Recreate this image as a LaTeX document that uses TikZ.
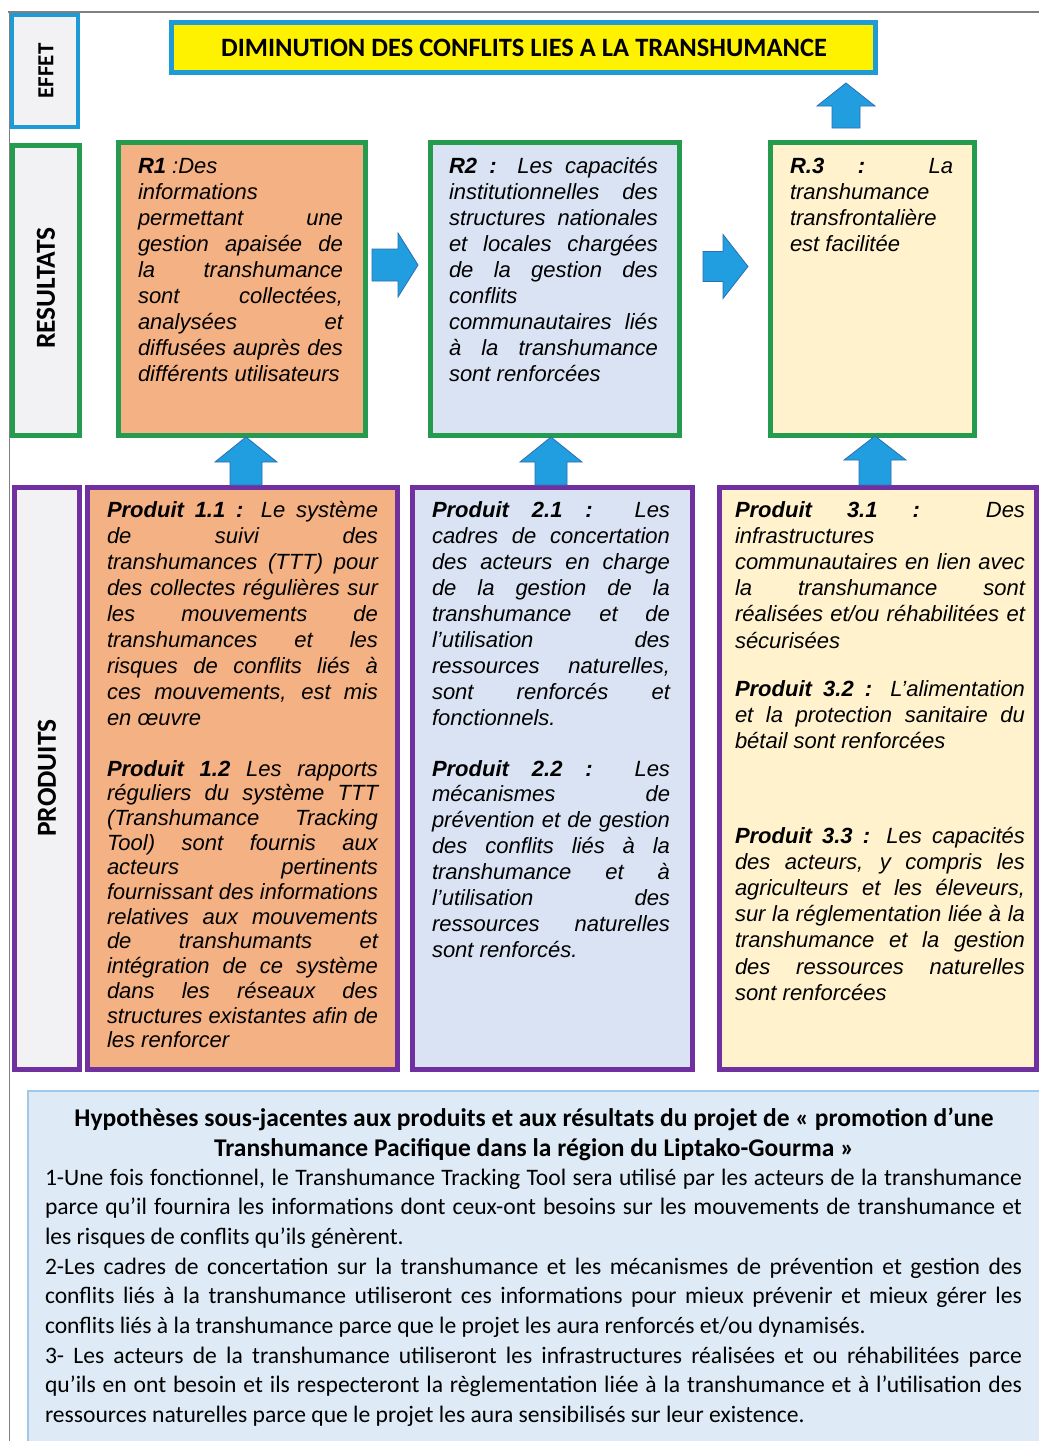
\documentclass[tikz,border=0pt]{standalone}
\usepackage{fontspec}
\usepackage{graphicx}
\setmainfont{Liberation Sans}
\newfontfamily\calibri{Carlito}
\usetikzlibrary{fit}
\definecolor{effblue}{RGB}{30,155,215}
\definecolor{grn}{RGB}{36,155,78}
\definecolor{pur}{RGB}{112,48,160}
\definecolor{orng}{RGB}{244,177,131}
\definecolor{lblue}{RGB}{218,227,243}
\definecolor{lyell}{RGB}{255,242,204}
\definecolor{lgray}{RGB}{242,242,244}
\definecolor{hypfill}{RGB}{222,235,247}
\definecolor{hypdraw}{RGB}{160,200,235}
\definecolor{arrfill}{RGB}{33,158,224}
\definecolor{arrdraw}{RGB}{45,110,175}
\definecolor{framegray}{RGB}{128,128,128}

\newcommand\jline[1]{\setbox0=\hbox{#1}\ifdim\wd0>\hsize\hbox to\hsize{\resizebox{\hsize}{\height}{#1}}\else\hbox to\hsize{#1}\fi}
\newcommand\lastln[1]{\setbox0=\hbox{#1}\ifdim\wd0>\hsize\hbox to\hsize{\resizebox{\hsize}{\height}{#1}}\else\hbox to\hsize{#1\hfil}\fi}
\newcommand\blk[3]{\parbox[t]{#1pt}{\fontsize{22}{#2}\selectfont\itshape #3}}
\newcommand\hblk[2]{\parbox[t]{#1pt}{\calibri\fontsize{23.6}{29.7}\selectfont #2}}
\newcommand\uparr[6]{\draw[arr] (#1,#2) -- (#1+#5,#3) -- (#1+#6,#3) -- (#1+#6,#4) -- (#1-#6,#4) -- (#1-#6,#3) -- (#1-#5,#3) -- cycle;}
\newcommand\rtarr[6]{\draw[arr] (#2,#1) -- (#3,#1-#5) -- (#3,#1-#6) -- (#4,#1-#6) -- (#4,#1+#6) -- (#3,#1+#6) -- (#3,#1+#5) -- cycle;}

\tikzset{
  lbl/.style={font=\calibri\bfseries\fontsize{27.5}{30}\selectfont, rotate=90},
  grbox/.style={draw=grn, line width=5pt},
  pubox/.style={draw=pur, line width=5pt},
  arr/.style={fill=arrfill, draw=arrdraw, line width=0.8pt, line join=miter},
  txt/.style={anchor=base west}
}

\begin{document}
\begin{tikzpicture}[x=1pt,y=-1pt, every node/.style={inner sep=0pt, outer sep=0pt}]
\useasboundingbox (0,0) rectangle (1039,1441);
\fill[white] (0,0) rectangle (1039,1441);

% frame lines
\draw[framegray, line width=2pt] (8,12) -- (1039,12);
\draw[framegray, line width=1.5pt] (9.5,12) -- (9.5,1441);

% EFFET row
\node[draw=effblue, line width=4pt, fill=lgray, fit={(12,15) (78,127)}] (effet) {};
\node[draw=effblue, line width=5pt, fill=yellow, fit={(171.5,22.5) (875.5,72.5)}] (goal) {};

% RESULTATS row
\node[grbox, fill=lgray, fit={(12.5,145.5) (79.5,435.5)}] (res) {};
\node[grbox, fill=orng, fit={(118.5,142.5) (365.5,435.5)}] (r1) {};
\node[grbox, fill=lblue, fit={(430.5,142.5) (679.5,435.5)}] (r2) {};
\node[grbox, fill=lyell, fit={(770.5,142.5) (974.5,435.5)}] (r3) {};

% PRODUITS row
\node[pubox, fill=lgray, fit={(14.5,487.5) (79.5,1069.5)}] (prod) {};
\node[pubox, fill=orng, fit={(87.5,487.5) (397.5,1069.5)}] (p1) {};
\node[pubox, fill=lblue, fit={(412.5,487.5) (692.5,1069.5)}] (p2) {};
\node[pubox, fill=lyell, fit={(719.5,487.5) (1036.5,1069.5)}] (p3) {};

% hypotheses box
\node[draw=hypdraw, line width=2pt, fill=hypfill, fit={(28,1091) (1050,1460)}] (hyp) {};

% arrows
\uparr{846}{83}{106}{128}{29}{14}
\uparr{246}{437}{462}{485}{31}{16}
\uparr{551}{437}{462}{485}{31}{16}
\uparr{875}{436}{460}{485}{31}{16}
\rtarr{265}{418}{398}{372}{32}{16}
\rtarr{266.5}{748}{723}{703}{32}{15}

% side labels
\node[lbl, font=\calibri\bfseries\fontsize{23}{26}\selectfont] (leffet) at (46,71) {EFFET};
\node[lbl] (lres) at (46,288) {RESULTATS};
\node[lbl] (lprod) at (47,778) {PRODUITS};

% goal text
\node[font=\calibri\bfseries\fontsize{26.5}{30}\selectfont] (goaltxt) at (524,48) {DIMINUTION DES CONFLITS LIES A LA TRANSHUMANCE};

% results texts
\node[txt] (r1t) at (138,173) {\blk{205}{26.1}{%
\lastln{{\bfseries R1} :Des}
\lastln{informations}
\jline{permettant une}
\jline{gestion apaisée de}
\jline{la transhumance}
\jline{sont collectées,}
\jline{analysées et}
\jline{diffusées auprès des}
\lastln{différents utilisateurs}}};

\node[txt] (r2t) at (449,173) {\blk{209}{26.1}{%
\jline{{\bfseries R2 :} Les capacités}
\jline{institutionnelles des}
\jline{structures nationales}
\jline{et locales chargées}
\jline{de la gestion des}
\lastln{conflits}
\jline{communautaires liés}
\jline{à la transhumance}
\lastln{sont renforcées}}};

\node[txt] (r3t) at (790,173) {\blk{163}{26.1}{%
\jline{{\bfseries R.3 :} La}
\lastln{transhumance}
\lastln{transfrontalière}
\lastln{est facilitée}}};

% product texts
\node[txt] (p11t) at (107,517) {\blk{271}{26}{%
\jline{{\bfseries Produit 1.1 :} Le système}
\jline{de suivi des}
\jline{transhumances (TTT) pour}
\jline{des collectes régulières sur}
\jline{les mouvements de}
\jline{transhumances et les}
\jline{risques de conflits liés à}
\jline{ces mouvements, est mis}
\lastln{en œuvre}}};

\node[txt] (p12t) at (107,776) {\blk{271}{24.7}{%
\jline{{\bfseries Produit 1.2} Les rapports}
\jline{réguliers du système TTT}
\jline{(Transhumance Tracking}
\jline{Tool) sont fournis aux}
\jline{acteurs pertinents}
\jline{fournissant des informations}
\jline{relatives aux mouvements}
\jline{de transhumants et}
\jline{intégration de ce système}
\jline{dans les réseaux des}
\jline{structures existantes afin de}
\lastln{les renforcer}}};

\node[txt] (p21t) at (432,517) {\blk{238}{26}{%
\jline{{\bfseries Produit 2.1 :} Les}
\jline{cadres de concertation}
\jline{des acteurs en charge}
\jline{de la gestion de la}
\jline{transhumance et de}
\jline{l’utilisation des}
\jline{ressources naturelles,}
\jline{sont renforcés et}
\lastln{fonctionnels.}}};

\node[txt] (p22t) at (432,776) {\blk{238}{25.9}{%
\jline{{\bfseries Produit 2.2 :} Les}
\jline{mécanismes de}
\jline{prévention et de gestion}
\jline{des conflits liés à la}
\jline{transhumance et à}
\jline{l’utilisation des}
\jline{ressources naturelles}
\lastln{sont renforcés.}}};

\node[txt] (p31t) at (735,517) {\blk{290}{26.2}{%
\jline{{\bfseries Produit 3.1 :} Des}
\lastln{infrastructures}
\jline{communautaires en lien avec}
\jline{la transhumance sont}
\jline{réalisées et/ou réhabilitées et}
\lastln{sécurisées}}};

\node[txt] (p32t) at (735,696) {\blk{290}{26}{%
\jline{{\bfseries Produit 3.2 :} L’alimentation}
\jline{et la protection sanitaire du}
\lastln{bétail sont renforcées}}};

\node[txt] (p33t) at (735,843) {\blk{290}{26.2}{%
\jline{{\bfseries Produit 3.3 :} Les capacités}
\jline{des acteurs, y compris les}
\jline{agriculteurs et les éleveurs,}
\jline{sur la réglementation liée à la}
\jline{transhumance et la gestion}
\jline{des ressources naturelles}
\lastln{sont renforcées}}};

% hypotheses text
\node[anchor=base] (hyptitle) at (534,1126)
  {\parbox[t]{1000pt}{\centering\calibri\bfseries\fontsize{25.5}{30}\selectfont Hypothèses sous-jacentes aux produits et aux résultats du projet de « promotion d’une\\Transhumance Pacifique dans la région du Liptako-Gourma »}};

\node[txt] (hypbody) at (45,1185) {\hblk{977}{%
\jline{1-Une fois fonctionnel, le Transhumance Tracking Tool sera utilisé par les acteurs de la transhumance}
\jline{parce qu’il fournira les informations dont ceux-ont besoins sur les mouvements de transhumance et}
\lastln{les risques de conflits qu’ils génèrent.}
\jline{2-Les cadres de concertation sur la transhumance et les mécanismes de prévention et gestion des}
\jline{conflits liés à la transhumance utiliseront ces informations pour mieux prévenir et mieux gérer les}
\lastln{conflits liés à la transhumance parce que le projet les aura renforcés et/ou dynamisés.}
\jline{3- Les acteurs de la transhumance utiliseront les infrastructures réalisées et ou réhabilitées parce}
\jline{qu’ils en ont besoin et ils respecteront la règlementation liée à la transhumance et à l’utilisation des}
\lastln{ressources naturelles parce que le projet les aura sensibilisés sur leur existence.}}};
\end{tikzpicture}
\end{document}
